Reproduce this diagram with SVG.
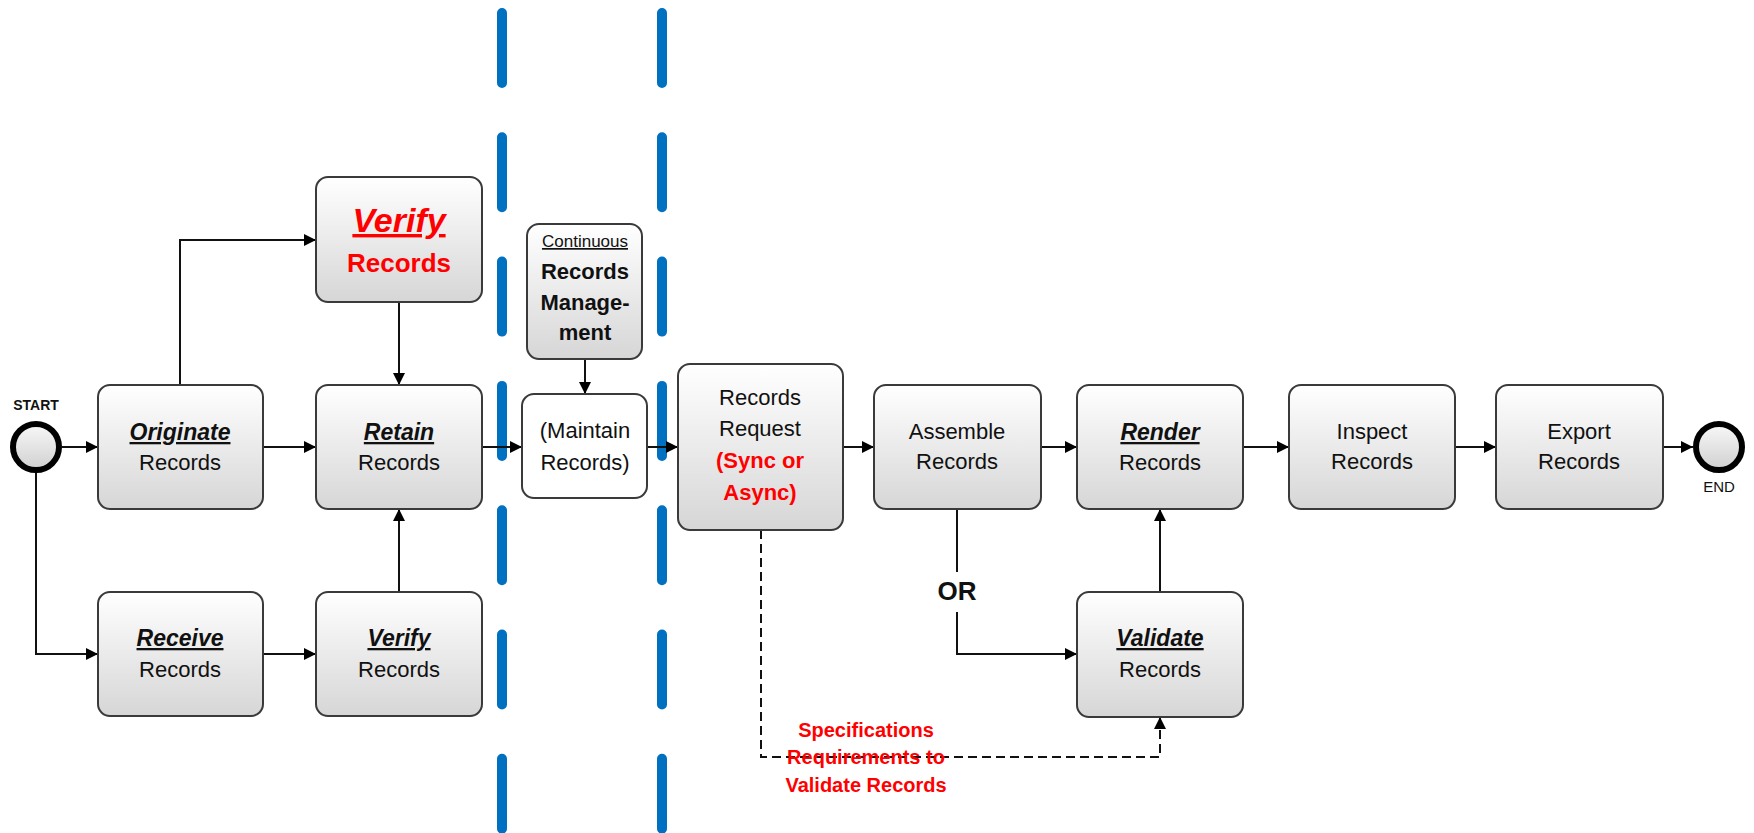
<svg xmlns="http://www.w3.org/2000/svg" width="1754" height="833" viewBox="0 0 1754 833">
<style>
.box{stroke:#3a3a3a;stroke-width:2;fill:url(#g)}
.wbox{stroke:#3a3a3a;stroke-width:2;fill:#fff}
.ev{stroke:#000;stroke-width:6;fill:url(#gc)}
.t{font-family:"Liberation Sans",Arial,sans-serif;font-size:22px;fill:#111;text-anchor:middle}
.k{font-family:"Liberation Sans",Arial,sans-serif;font-size:23px;font-weight:bold;font-style:italic;fill:#111;text-anchor:middle;text-decoration:underline}
.b{font-weight:bold}
.red{fill:#ff0000}
.c{fill:none;stroke:#111;stroke-width:2}
.d{fill:none;stroke:#111;stroke-width:2;stroke-dasharray:9 5}
.lane{fill:none;stroke:#0070c0;stroke-width:10;stroke-linecap:round;stroke-dasharray:70 54.3}
</style>
<defs>
<linearGradient id="g" x1="0" y1="0" x2="0" y2="1">
<stop offset="0" stop-color="#ffffff"/>
<stop offset="1" stop-color="#d6d6d6"/>
</linearGradient>
<linearGradient id="gc" x1="0" y1="0" x2="0" y2="1">
<stop offset="0" stop-color="#f8f8f8"/>
<stop offset="1" stop-color="#d0d0d0"/>
</linearGradient>
<marker id="a" markerUnits="userSpaceOnUse" markerWidth="12" markerHeight="12" refX="12" refY="6" orient="auto">
<path d="M0,0 L12,6 L0,12 z" fill="#000"/>
</marker>
</defs>

<g id="lanes">
<line class="lane" x1="502" y1="13" x2="502" y2="850"/>
<line class="lane" x1="662" y1="13" x2="662" y2="850"/>
</g>

<g id="connectors">
<path class="c" d="M62,447 H98" marker-end="url(#a)"/>
<path class="c" d="M36,473 V654 H98" marker-end="url(#a)"/>
<path class="c" d="M263,447 H316" marker-end="url(#a)"/>
<path class="c" d="M180,385 V240 H316" marker-end="url(#a)"/>
<path class="c" d="M399,302 V385" marker-end="url(#a)"/>
<path class="c" d="M263,654 H316" marker-end="url(#a)"/>
<path class="c" d="M399,592 V509" marker-end="url(#a)"/>
<path class="c" d="M482,447 H522" marker-end="url(#a)"/>
<path class="c" d="M585,359 V394" marker-end="url(#a)"/>
<path class="c" d="M647,447 H678" marker-end="url(#a)"/>
<path class="c" d="M843,447 H874" marker-end="url(#a)"/>
<path class="c" d="M1041,447 H1077" marker-end="url(#a)"/>
<path class="c" d="M957,509 V572"/>
<path class="c" d="M957,612 V654 H1077" marker-end="url(#a)"/>
<path class="c" d="M1160,592 V509" marker-end="url(#a)"/>
<path class="c" d="M1243,447 H1289" marker-end="url(#a)"/>
<path class="c" d="M1455,447 H1496" marker-end="url(#a)"/>
<path class="c" d="M1663,447 H1693" marker-end="url(#a)"/>
<path class="d" d="M761,530 V757 H1160 V717" marker-end="url(#a)"/>
<text class="t b" x="957" y="600" style="font-size:26px">OR</text>
<text class="t b red" x="866" y="737" style="font-size:20px">Specifications</text>
<text class="t b red" x="866" y="764" style="font-size:20px">Requirements to</text>
<text class="t b red" x="866" y="792" style="font-size:20px">Validate Records</text>
</g>

<g id="start">
<circle class="ev" cx="36" cy="447" r="23"/>
<text class="t b" x="36" y="410" style="font-size:14px">START</text>
</g>

<g id="originate">
<rect class="box" x="98" y="385" width="165" height="124" rx="12"/>
<text class="k" x="180" y="440">Originate</text>
<text class="t" x="180" y="470">Records</text>
</g>

<g id="verify-top">
<rect class="box" x="316" y="177" width="166" height="125" rx="12"/>
<text class="k red" x="399" y="232" style="font-size:34px">Verify</text>
<text class="t b red" x="399" y="272" style="font-size:26px">Records</text>
</g>

<g id="retain">
<rect class="box" x="316" y="385" width="166" height="124" rx="12"/>
<text class="k" x="399" y="440">Retain</text>
<text class="t" x="399" y="470">Records</text>
</g>

<g id="receive">
<rect class="box" x="98" y="592" width="165" height="124" rx="12"/>
<text class="k" x="180" y="646">Receive</text>
<text class="t" x="180" y="677">Records</text>
</g>

<g id="verify">
<rect class="box" x="316" y="592" width="166" height="124" rx="12"/>
<text class="k" x="399" y="646">Verify</text>
<text class="t" x="399" y="677">Records</text>
</g>

<g id="records-management">
<rect class="box" x="527" y="224" width="115" height="135" rx="12"/>
<text class="t" x="585" y="247" style="font-size:17px;text-decoration:underline">Continuous</text>
<text class="t b" x="585" y="279">Records</text>
<text class="t b" x="585" y="310">Manage-</text>
<text class="t b" x="585" y="340">ment</text>
</g>

<g id="maintain">
<rect class="wbox" x="522" y="394" width="125" height="104" rx="12"/>
<text class="t" x="585" y="438">(Maintain</text>
<text class="t" x="585" y="470">Records)</text>
</g>

<g id="records-request">
<rect class="box" x="678" y="364" width="165" height="166" rx="12"/>
<text class="t" x="760" y="405">Records</text>
<text class="t" x="760" y="436">Request</text>
<text class="t b red" x="760" y="468">(Sync or</text>
<text class="t b red" x="760" y="500">Async)</text>
</g>

<g id="assemble">
<rect class="box" x="874" y="385" width="167" height="124" rx="12"/>
<text class="t" x="957" y="439">Assemble</text>
<text class="t" x="957" y="469">Records</text>
</g>

<g id="render">
<rect class="box" x="1077" y="385" width="166" height="124" rx="12"/>
<text class="k" x="1160" y="440">Render</text>
<text class="t" x="1160" y="470">Records</text>
</g>

<g id="validate">
<rect class="box" x="1077" y="592" width="166" height="125" rx="12"/>
<text class="k" x="1160" y="646">Validate</text>
<text class="t" x="1160" y="677">Records</text>
</g>

<g id="inspect">
<rect class="box" x="1289" y="385" width="166" height="124" rx="12"/>
<text class="t" x="1372" y="439">Inspect</text>
<text class="t" x="1372" y="469">Records</text>
</g>

<g id="export">
<rect class="box" x="1496" y="385" width="167" height="124" rx="12"/>
<text class="t" x="1579" y="439">Export</text>
<text class="t" x="1579" y="469">Records</text>
</g>

<g id="end">
<circle class="ev" cx="1719" cy="447" r="23"/>
<text class="t" x="1719" y="492" style="font-size:15px">END</text>
</g>
</svg>
